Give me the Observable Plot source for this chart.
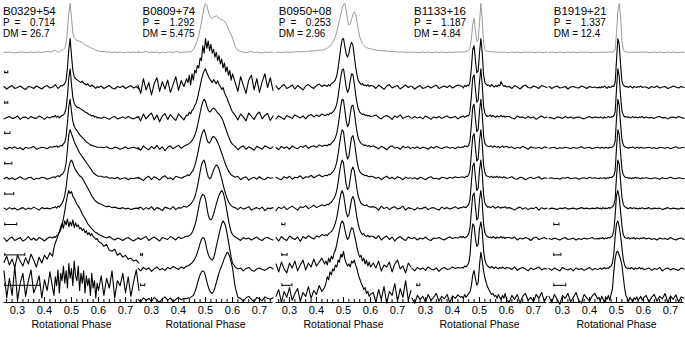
<!DOCTYPE html>
<html><head><meta charset="utf-8">
<script src="https://cdn.jsdelivr.net/npm/d3@7"></script>
<script src="https://cdn.jsdelivr.net/npm/@observablehq/plot@0.6"></script>
<style>
html,body{margin:0;padding:0;background:#fff;}
#chart{position:relative;width:685px;height:337px;overflow:hidden;background:#fff;}
#chart svg{position:absolute;top:0;}
</style></head><body><div id="chart"></div>
<script>
// Rotational phase sample grid (finer around the pulse)
const phase = [0.25,0.26,0.27,0.28,0.29,0.30,0.31,0.32,0.33,0.34,0.35,0.36,0.37,0.38,0.39,0.40,0.41,0.42,0.43,
  0.435,0.44,0.445,0.45,0.455,0.46,0.465,0.47,0.475,0.48,0.485,0.49,0.495,0.50,0.505,0.51,0.515,0.52,0.525,0.53,0.535,0.54,0.545,0.55,0.555,0.56,0.565,0.57,0.575,0.58,0.585,0.59,0.595,0.60,
  0.61,0.62,0.63,0.64,0.65,0.66,0.67,0.68,0.69,0.70,0.71,0.72,0.73,0.74,0.75];

const names = ["B0329+54","B0809+74","B0950+08","B1133+16","B1919+21"];
const periods = ["0.714","1.292","0.253","1.187","1.337"];
const dms = ["26.7","5.475","2.96","4.84","12.4"];
const majorTicks = [0.3,0.4,0.5,0.6,0.7];
const tickLabels = ["0.3","0.4","0.5","0.6","0.7"];
const minorTicks = [0.26,0.28,0.30,0.32,0.34,0.36,0.38,0.40,0.42,0.44,0.46,0.48,0.50,0.52,0.54,0.56,0.58,0.60,0.62,0.64,0.66,0.68,0.70,0.72,0.74];

// profiles: first = average (gray), then 8 frequency channels; values in % of peak
const B0329 = [
 [1,0,1,0,-1,0,1,1,0,0,1,0,1,1,0,1,2,1,2, 5,4,2,1,1,3,5,6,9,18,45,80,100,70,40,30,26,25,24,23,22,20,18,16,14,13,11,10,9,8,6,5,4,3, 2,2,1,1,0,1,0,1,0,0,1,0,1,0,1],
 [2,-3,1,4,-2,0,3,-1,-4,2,1,-2,3,0,-3,2,4,-1,1, 3,6,2,-2,1,4,3,5,8,15,40,78,100,65,35,22,18,16,14,12,10,13,9,7,5,8,4,2,5,3,1,-2,2,0, 3,-2,1,4,-1,-3,2,0,3,-2,1,4,-1,2,-3],
 [-2,1,3,-1,0,4,-3,1,2,-2,3,0,-1,4,1,-3,2,0,3, 2,5,1,4,0,3,5,6,10,20,45,82,100,68,42,30,25,22,21,20,18,16,15,12,11,9,7,6,4,5,2,3,0,1, -1,2,0,-3,1,3,-2,0,2,-1,3,0,-2,1,2],
 [1,-2,2,0,3,-1,1,-3,2,0,1,4,-2,0,2,1,-1,3,2, 4,3,5,2,4,6,5,9,12,24,52,85,100,75,55,45,40,36,32,28,25,22,19,16,13,11,9,7,6,5,4,3,2,2, 2,1,3,0,-1,2,1,-2,0,3,-1,1,2,0,-2],
 [0,3,-1,2,-2,1,4,0,-1,2,3,-2,1,0,3,2,-1,1,3, 4,2,5,6,4,7,9,12,18,32,60,90,100,92,84,76,70,64,58,53,49,45,41,37,33,29,25,21,17,13,10,8,6,5, 5,3,4,1,2,0,3,-1,1,2,-2,1,0,2,1],
 [2,-1,3,0,2,-2,1,3,-1,2,0,4,1,-2,3,1,2,0,3, 3,5,2,6,4,8,12,18,28,45,68,85,96,100,94,86,80,76,72,68,66,63,58,53,48,43,38,33,27,23,19,16,14,12, 10,7,5,6,3,4,2,1,3,0,2,-1,1,2,0],
 [3,-4,2,5,-2,1,4,-3,0,6,-1,3,-2,4,1,-3,2,5,3, 6,4,8,10,14,20,30,42,58,75,90,100,94,98,88,84,78,72,68,64,58,52,47,43,38,32,29,25,22,19,16,14,13,10, 8,5,3,6,2,-1,3,1,-2,2,4,0,-3,1,2],
 [15,28,10,22,5,30,18,8,25,12,32,20,6,26,14,30,22,35,28, 45,55,62,70,78,88,95,85,100,92,104,88,98,90,102,86,96,88,92,84,86,80,84,76,80,72,76,70,74,68,66,62,64,58, 55,48,52,40,38,42,30,34,26,30,22,24,18,20,14],
 [60,5,45,10,70,0,35,55,8,40,62,15,30,50,5,42,20,58,25, 10,48,30,62,15,55,40,70,35,60,25,75,45,65,30,80,50,40,70,20,55,35,60,15,50,30,45,10,55,25,40,5,35,20, 50,10,45,25,60,5,40,30,55,15,48,8,38,62,20]
];
const B0809 = [
 [1,0,1,2,0,1,0,1,-1,1,0,1,1,0,2,1,0,1,1, 1,2,1,3,6,12,18,26,35,48,62,78,92,100,96,85,76,71,70,72,74,75,73,70,68,67,66,64,60,55,48,42,36,30, 12,4,2,1,0,1,2,0,1,0,-1,1,0,1,0],
 [5,-12,18,-5,10,-15,8,20,-8,12,-3,15,-10,6,22,-6,14,2,18, 10,25,5,28,15,35,30,45,40,60,55,85,70,100,80,95,75,88,70,78,62,72,55,65,48,58,40,50,32,42,25,35,15,28, 10,-8,22,5,-12,15,25,-5,18,-10,12,28,0,20,-6],
 [3,-6,8,-2,5,10,-4,6,-8,4,9,-3,7,0,-5,8,2,-4,6, 5,12,8,15,18,25,30,40,52,65,78,88,96,100,92,86,80,76,72,78,74,70,76,68,64,58,62,52,46,40,32,25,18,12, 5,-4,8,2,-6,10,3,-3,7,12,-2,5,9,-5,4],
 [2,-4,5,0,-3,4,-1,6,-2,3,-5,2,5,-1,3,6,0,4,7, 8,10,12,16,20,26,34,45,58,72,85,95,100,96,86,78,74,76,80,82,80,76,72,70,66,62,56,48,40,32,24,18,12,8, 4,-3,2,5,-2,3,0,-4,4,1,-2,5,2,-1,3],
 [3,0,-4,2,5,-2,4,1,-3,3,6,0,2,-2,5,3,1,4,6, 8,6,10,14,18,26,36,48,62,76,88,96,100,92,80,74,73,78,84,86,84,80,74,68,60,52,44,36,28,22,16,12,8,6, 3,5,-2,2,4,-3,1,3,-1,4,0,-2,3,1,2],
 [2,4,-1,3,0,5,-2,3,1,-3,4,2,0,5,-1,3,2,6,4, 6,8,10,14,18,24,34,46,60,76,90,97,100,90,76,66,62,64,72,80,86,90,88,82,72,62,50,40,30,22,15,10,7,5, 3,-1,4,0,2,5,-2,1,3,0,4,-3,2,1,3],
 [4,0,3,6,-2,2,5,1,-3,4,2,0,6,3,-1,5,2,4,7, 6,8,10,14,20,28,38,52,66,80,88,92,90,82,66,50,42,40,44,52,62,72,82,90,96,100,96,86,72,56,40,26,16,10, 5,2,-2,4,1,3,-1,2,5,0,-2,3,4,1,-1],
 [3,-2,5,1,4,-3,2,6,0,3,-1,5,2,7,4,1,6,3,8, 8,10,12,14,18,22,28,36,44,54,62,66,65,56,42,32,25,22,20,24,34,48,60,72,84,94,100,96,88,74,58,42,26,14, 6,2,4,-2,3,5,0,-3,2,4,1,-1,3,6,2],
 [2,-3,5,0,4,-2,6,1,-4,3,7,0,5,-3,2,6,1,4,3, 5,4,6,8,10,16,24,34,44,52,58,60,58,50,38,28,20,16,14,18,26,36,46,56,64,70,78,86,92,98,96,88,78,66, 27,6,4,-2,5,8,2,-3,6,3,-1,7,4,2,5]
];
const B0950 = [
 [0,1,0,1,1,0,1,1,2,1,2,2,3,3,3,4,5,5,6, 8,9,11,13,16,21,26,33,42,54,66,78,90,98,100,86,66,56,58,68,78,83,78,62,46,32,24,18,14,12,10,9,8,8, 6,5,4,4,3,3,2,2,2,1,1,1,1,0,1],
 [3,-4,2,6,-2,1,5,-3,4,0,-5,3,6,1,-2,4,7,2,5, 4,2,6,3,8,10,12,16,24,40,60,82,98,100,84,68,62,70,85,92,86,64,42,26,14,10,6,8,4,5,3,6,2,4, 3,-2,5,1,-4,3,6,-1,2,4,-3,1,5,0,3],
 [-2,4,1,-3,5,2,-1,6,3,0,4,-2,5,7,2,6,3,8,5, 5,8,6,10,9,12,15,20,28,44,64,84,98,100,82,62,52,58,76,90,88,70,48,30,18,12,9,7,8,5,6,4,5,3, 4,6,1,-2,3,5,2,-3,4,1,6,-1,2,4,0],
 [2,-3,4,0,3,-2,5,1,-1,4,2,6,0,3,5,2,7,4,6, 6,5,8,7,10,13,16,22,30,46,66,86,100,98,78,56,44,50,70,86,88,74,52,34,20,14,10,8,6,7,5,4,6,3, 5,2,-1,4,1,-3,3,5,0,2,-2,4,1,3,-1],
 [3,0,-2,4,1,5,-1,3,2,6,0,4,3,7,2,5,8,4,6, 7,6,9,8,11,14,18,24,34,50,70,88,100,96,74,52,40,46,66,84,88,76,56,36,22,15,11,9,8,6,7,5,4,5, 4,1,3,-2,2,5,0,3,-1,4,2,-2,3,1,2],
 [-3,4,1,5,-1,3,6,2,-2,5,3,7,1,4,8,3,6,9,7, 8,10,9,12,14,18,22,28,38,54,74,90,100,94,72,50,40,44,62,80,86,78,60,40,26,18,12,10,8,7,9,6,5,4, 5,3,-2,6,1,4,-1,3,5,0,2,6,-2,3,1],
 [4,-3,6,1,-2,7,3,0,5,-4,6,2,8,4,1,7,5,10,8, 10,8,12,14,16,20,26,34,44,60,78,92,100,92,74,56,46,50,66,82,88,80,62,44,30,20,14,10,12,8,6,9,5,7, 6,2,8,-1,4,7,0,5,-3,3,6,1,-2,5,2],
 [12,-4,16,2,-6,14,4,18,-2,10,20,0,14,6,22,8,16,24,12, 18,10,24,16,28,22,34,40,52,66,80,94,100,96,82,70,62,66,78,86,84,72,60,46,34,26,30,18,24,12,20,8,16,6, 14,4,18,-2,10,6,16,-4,12,20,2,8,-6,14,6],
 [8,22,-4,18,6,26,0,14,24,-2,16,8,28,4,20,12,30,18,26, 35,48,42,58,52,64,60,72,68,82,78,94,88,100,84,76,70,74,68,80,76,82,72,64,52,44,36,30,22,26,14,18,8,12, 16,-4,22,2,28,-6,18,10,34,-2,24,6,40,0,20]
];
const B1133 = [
 [0,1,0,0,1,0,1,0,0,1,0,1,0,0,1,0,1,1,1, 1,1,1,2,2,4,10,28,58,70,45,22,25,60,100,70,20,6,3,2,2,1,2,1,1,1,0,1,1,0,1,0,1,0, 0,1,0,1,0,0,1,0,1,0,0,1,0,0,1],
 [2,-3,1,4,-2,0,3,-1,2,5,-2,1,3,0,4,-1,2,5,3, 3,-1,4,2,5,3,12,40,78,85,55,30,34,70,100,72,26,10,6,4,5,2,6,3,1,4,2,5,3,12,6,2,4,1, 2,-2,4,1,-3,2,5,0,-1,3,1,-2,4,2,0],
 [-1,3,0,2,-2,4,1,-3,2,0,3,-1,2,4,0,1,3,-2,2, 2,4,1,3,5,4,14,45,82,88,58,32,36,74,100,68,24,9,5,3,4,6,2,5,3,1,4,2,3,5,2,4,1,3, 3,0,-2,4,1,2,-1,3,0,2,-3,1,4,0,2],
 [2,0,3,-1,2,1,-2,3,0,4,1,-1,2,3,0,2,-1,3,1, 3,2,5,4,3,6,16,48,84,90,60,34,38,76,100,70,26,10,6,4,3,5,4,2,5,3,2,4,1,3,5,2,3,4, 1,3,-1,2,0,4,1,-2,3,1,0,2,-1,3,1],
 [0,2,-1,3,1,-2,2,4,0,1,-1,3,2,0,3,1,4,2,3, 4,3,2,5,4,8,18,52,86,92,62,36,40,78,100,72,28,12,6,5,4,3,5,2,4,3,5,2,4,3,2,4,3,1, 2,4,0,-1,3,2,-2,1,3,0,2,4,-1,2,1],
 [1,-2,3,0,2,4,-1,2,3,0,-2,4,1,3,0,2,5,1,3, 3,5,4,3,6,9,20,55,88,94,64,38,42,80,100,74,30,12,7,4,5,3,4,6,3,2,4,5,3,2,4,3,5,2, 3,1,-2,2,4,0,3,-1,2,1,4,-2,3,0,2],
 [2,4,-1,3,1,5,0,-2,3,2,4,1,-1,3,5,2,4,3,6, 4,6,3,5,7,12,24,58,90,95,66,40,44,82,100,76,32,14,8,6,4,5,3,6,4,2,5,3,4,6,3,5,2,4, 4,2,5,-1,3,1,4,2,-2,3,5,0,2,4,1],
 [3,-2,5,1,4,-1,6,2,0,4,-3,3,5,1,2,6,3,5,4, 5,4,8,6,9,14,30,70,94,90,64,48,52,84,98,80,40,20,12,8,6,4,7,5,3,6,4,2,5,3,6,4,2,5, 4,1,6,-1,3,5,2,-2,4,1,3,6,0,3,2],
 [4,-6,10,2,8,-4,12,0,6,14,-2,8,3,12,-5,9,4,11,6, 8,4,12,6,10,14,17,30,52,61,44,31,36,72,98,82,60,46,36,27,22,16,12,14,8,10,4,12,6,2,10,4,14,2, -4,10,2,12,-6,8,14,0,6,-3,12,4,16,-2,8]
];
const B1919 = [
 [0,1,0,0,1,0,0,1,0,1,0,0,1,0,1,0,0,1,0, 0,1,0,1,0,1,0,1,1,1,1,1,6,40,85,100,75,25,6,2,1,1,0,1,0,1,0,1,0,1,0,1,0,1, 1,0,0,1,0,1,0,0,1,0,1,0,0,1,0],
 [2,-2,1,3,-1,0,2,-3,1,2,0,-1,3,1,-2,2,0,1,-1, 1,-1,2,0,3,1,-2,2,0,1,3,2,10,55,100,88,48,14,5,3,1,2,0,3,1,-1,2,1,0,2,1,3,0,1, 1,-2,2,0,3,-1,1,2,-2,0,3,1,-1,2,0],
 [1,0,-2,2,1,-1,3,0,2,-1,1,2,0,-2,1,3,0,2,1, 0,2,1,-1,2,0,1,3,1,2,2,4,12,58,100,86,46,15,6,2,3,1,2,0,1,3,0,2,1,0,2,1,3,0, 2,0,1,-1,2,3,0,1,-2,1,2,0,3,1,-1],
 [0,1,2,-1,1,0,2,1,-1,2,0,1,3,0,1,2,-1,1,2, 1,0,2,1,0,2,1,0,2,1,3,5,14,60,100,88,50,18,7,3,2,1,0,2,1,3,1,0,2,1,0,2,1,0, 1,2,0,1,-1,2,1,0,2,-1,1,3,0,1,2],
 [1,2,0,1,-1,2,1,3,0,1,2,-1,1,2,0,3,1,2,1, 0,2,1,1,2,0,2,1,3,2,4,6,16,62,100,90,54,20,8,4,2,3,1,2,0,2,1,3,1,2,1,0,2,1, 2,1,0,2,1,-1,2,0,1,3,1,0,2,1,0],
 [0,2,1,-1,2,1,3,0,1,2,0,1,3,1,2,0,2,1,3, 1,2,0,3,1,2,1,3,2,3,5,8,20,66,100,92,58,24,10,5,3,2,1,3,2,1,3,1,2,0,2,1,3,1, 1,3,0,2,1,2,-1,1,3,0,2,1,0,2,1],
 [2,0,3,1,-1,2,4,0,1,3,-1,2,0,3,1,2,4,1,2, 1,3,2,4,1,3,2,4,3,5,8,18,50,90,100,86,58,28,10,4,3,2,4,1,3,2,4,1,3,2,1,3,2,4, 1,3,0,2,-1,3,1,2,0,4,1,-1,2,3,0],
 [3,-1,4,1,-2,5,2,0,3,-2,4,1,3,-1,2,5,0,3,1, 2,4,1,3,5,2,4,3,6,8,14,32,68,94,100,88,70,46,22,10,5,3,4,2,5,3,1,4,2,3,5,2,4,1, 2,4,-1,3,1,5,-2,2,4,0,3,1,-1,4,2],
 [8,-5,12,2,-8,10,4,14,-3,6,16,0,-6,12,5,-2,9,14,3, 6,-2,8,3,-4,7,2,10,0,12,24,58,85,98,100,92,84,72,48,25,10,4,-2,6,1,-3,5,2,7,-1,4,8,0,5, 10,-4,6,12,-2,8,3,14,-5,9,2,11,-3,7,4]
];
// width (in phase) of the resolution bar drawn above each channel
const barB0329 = [0.011,0.011,0.019,0.026,0.033,0.044,0.074,0.13];
const barB0809 = [0,0,0,0,0,0,0.007,0.015];
const barB0950 = [0,0,0,0,0,0.011,0.019,0.037];
const barB1133 = [0,0,0,0,0,0,0,0.011];
const barB1919 = [0,0,0,0,0,0.019,0.026,0.044];

const pulsars = [
  {name: names[0], P: periods[0], DM: dms[0], profiles: B0329, bars: barB0329},
  {name: names[1], P: periods[1], DM: dms[1], profiles: B0809, bars: barB0809},
  {name: names[2], P: periods[2], DM: dms[2], profiles: B0950, bars: barB0950},
  {name: names[3], P: periods[3], DM: dms[3], profiles: B1133, bars: barB1133},
  {name: names[4], P: periods[4], DM: dms[4], profiles: B1919, bars: barB1919}
];

// layout
const W = 140, H = 337, MB = 35, AMP = 49;
const centers = [70.5, 204.5, 343, 478.7, 616];
const textDx = [-1, 4.5, 2.8, 2.1, 4.8];
const barStart = [0.253, 0.26, 0.272, 0.268, 0.268];
const FONT = "'Liberation Sans', Arial, Helvetica, sans-serif";
function baseline(k) { return k === 0 ? 250 : 215 - (k - 1) * 30.4; }

function label(txt, dx, baseY, size) {
  // baseline-positioned text in the top-left corner of the frame
  return Plot.text([txt], {frameAnchor: "top-left", textAnchor: "start", lineAnchor: "bottom", dx, dy: baseY, fontSize: size, fill: "#000"});
}

const chart = document.getElementById("chart");
pulsars.forEach((p, i) => {
  p.profiles.forEach((v, k) => { if (v.length !== phase.length) console.warn(p.name, k, v.length); });
  const rows = [];
  p.profiles.forEach((vals, k) => vals.forEach((v, j) => rows.push({k, x: phase[j], y: baseline(k) + v / 100 * AMP})));
  const bars = p.bars.map((w, j) => ({k: j + 1, w})).filter(d => d.w > 0)
    .map(d => ({x1: barStart[i], x2: barStart[i] + d.w, y: baseline(d.k) + 15}));
  const dx = textDx[i];
  const svg = Plot.plot({
    width: W, height: H,
    marginLeft: 2.5, marginRight: 2.5, marginTop: 0, marginBottom: MB,
    style: {background: "transparent", overflow: "visible", fontFamily: FONT},
    x: {domain: [0.25, 0.75], axis: null},
    y: {domain: [0, H - MB], axis: null},
    marks: [
      Plot.line(rows.filter(d => d.k === 0), {x: "x", y: "y", stroke: "#9a9a9a", strokeWidth: 1}),
      Plot.line(rows.filter(d => d.k > 0), {x: "x", y: "y", z: "k", stroke: "#000", strokeWidth: 1.1}),
      Plot.ruleY(bars, {x1: "x1", x2: "x2", y: "y", stroke: "#000", strokeWidth: 1}),
      Plot.ruleX(bars, {x: "x1", y1: d => d.y - 1.5, y2: d => d.y + 1.5, stroke: "#000", strokeWidth: 1}),
      Plot.ruleX(bars, {x: "x2", y1: d => d.y - 1.5, y2: d => d.y + 1.5, stroke: "#000", strokeWidth: 1}),
      Plot.ruleY([0], {stroke: "#000", strokeWidth: 1}),
      Plot.ruleX(minorTicks, {x: d => d, y1: 0, y2: 3, stroke: "#000", strokeWidth: 1}),
      Plot.ruleX(majorTicks, {x: d => d, y1: 0, y2: 5, stroke: "#000", strokeWidth: 1}),
      Plot.text(majorTicks, {x: d => d, text: (d, j) => tickLabels[j], frameAnchor: "bottom", lineAnchor: "top", dy: 4, fontSize: 11, fill: "#000"}),
      Plot.text(["Rotational Phase"], {frameAnchor: "bottom", lineAnchor: "middle", dy: 22, fontSize: 10.5, fill: "#000"}),
      label(p.name, dx, 14.5, 11.5),
      label("P", dx, 25.2, 10),
      label("=", dx + 11.6, 25.2, 10),
      label(p.P, dx + 27, 25.2, 10),
      label("DM =", dx, 36.4, 10),
      label(p.DM, dx + 27, 36.4, 10)
    ]
  });
  svg.style.left = (centers[i] - W / 2) + "px";
  chart.append(svg);
});
</script>
</body></html>
